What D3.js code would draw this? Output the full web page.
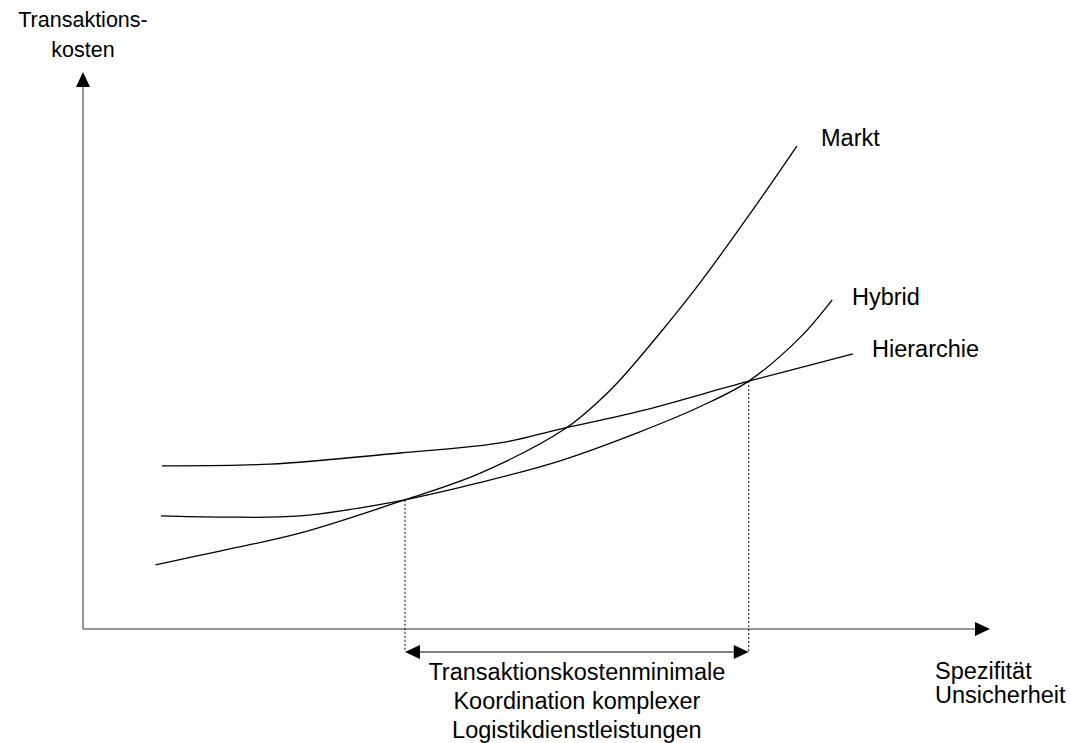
<!DOCTYPE html>
<html>
<head>
<meta charset="utf-8">
<script src="https://cdn.jsdelivr.net/npm/d3@7"></script>
<style>
  html, body { margin: 0; padding: 0; background: #fff; }
  svg text { font-family: Arial, 'Liberation Sans', sans-serif; font-size: 23.5px; fill: #000; }
  svg text.ylabel { font-size: 21.5px; }
</style>
</head>
<body>
<svg id="chart" width="1071" height="743"></svg>
<script>
// curve values (x: Spezifität/Unsicherheit, y: Transaktionskosten, 0..100)
const marktX = [8.0, 15.1, 23.9, 35.5, 43.8, 53.1, 57.0, 59.2, 63.6, 68.0, 74.6, 78.7];
const marktY = [11.5, 14.0, 17.2, 23.2, 28.0, 35.9, 41.1, 44.7, 53.1, 62.1, 77.0, 86.7];

const hybridX = [8.6, 15.1, 23.9, 35.5, 43.8, 52.6, 61.4, 68.0, 73.4, 79.1, 82.6];
const hybridY = [20.3, 20.1, 20.3, 23.2, 26.3, 30.2, 35.4, 39.9, 44.5, 52.4, 59.1];

const hierX = [8.7, 20.6, 35.0, 46.0, 52.6, 61.4, 73.4, 84.9];
const hierY = [29.3, 29.6, 31.6, 33.4, 35.9, 39.1, 44.5, 49.4];

// intersections that bound the cost-minimal range
const boundX = [35.5, 73.4];
const boundY = [23.2, 44.5];

const seriesNames = ['Markt', 'Hybrid', 'Hierarchie'];
const axisLabelY = ['Transaktions-', 'kosten'];
const axisLabelX = ['Spezifität', 'Unsicherheit'];
const rangeLabel = ['Transaktionskostenminimale', 'Koordination komplexer', 'Logistikdienstleistungen'];

const svg = d3.select('#chart');

const x = d3.scaleLinear().domain([0, 100]).range([83, 990]);
const y = d3.scaleLinear().domain([0, 100]).range([629, 72]);

const series = [
  { name: seriesNames[0], xs: marktX, ys: marktY, lx: 821, ly: 146 },
  { name: seriesNames[1], xs: hybridX, ys: hybridY, lx: 852, ly: 305 },
  { name: seriesNames[2], xs: hierX, ys: hierY, lx: 872, ly: 357 }
];

// axes
const axisColor = '#333';
const arrowLen = 15, arrowHalf = 7;
svg.append('line')
  .attr('x1', x(0)).attr('y1', y(0))
  .attr('x2', x(100) - arrowLen).attr('y2', y(0))
  .attr('stroke', axisColor).attr('stroke-width', 1);
svg.append('line')
  .attr('x1', x(0)).attr('y1', y(0))
  .attr('x2', x(0)).attr('y2', y(100) + arrowLen)
  .attr('stroke', axisColor).attr('stroke-width', 1);

svg.append('path')
  .attr('d', `M${x(100)},${y(0)} L${x(100) - arrowLen},${y(0) - arrowHalf} L${x(100) - arrowLen},${y(0) + arrowHalf} Z`)
  .attr('fill', '#000');
svg.append('path')
  .attr('d', `M${x(0)},${y(100)} L${x(0) - arrowHalf},${y(100) + arrowLen} L${x(0) + arrowHalf},${y(100) + arrowLen} Z`)
  .attr('fill', '#000');

// curves
const line = d3.line()
  .x(d => x(d[0]))
  .y(d => y(d[1]))
  .curve(d3.curveCatmullRom.alpha(0.5));

series.forEach(s => {
  svg.append('path')
    .datum(s.xs.map((v, i) => [v, s.ys[i]]))
    .attr('d', line)
    .attr('fill', 'none')
    .attr('stroke', '#000')
    .attr('stroke-width', 1.3);

  svg.append('text')
    .attr('x', s.lx)
    .attr('y', s.ly)
    .text(s.name);
});

// dotted drop lines and double arrow
const arrowY = 652;
boundX.forEach((bx, i) => {
  svg.append('line')
    .attr('x1', x(bx)).attr('y1', y(boundY[i]))
    .attr('x2', x(bx)).attr('y2', arrowY)
    .attr('stroke', '#000')
    .attr('stroke-width', 1)
    .attr('stroke-dasharray', '2,2');
});

const ax0 = x(boundX[0]), ax1 = x(boundX[1]);
svg.append('line')
  .attr('x1', ax0 + arrowLen).attr('y1', arrowY)
  .attr('x2', ax1 - arrowLen).attr('y2', arrowY)
  .attr('stroke', '#000').attr('stroke-width', 1);
svg.append('path')
  .attr('d', `M${ax0},${arrowY} L${ax0 + arrowLen},${arrowY - arrowHalf} L${ax0 + arrowLen},${arrowY + arrowHalf} Z`)
  .attr('fill', '#000');
svg.append('path')
  .attr('d', `M${ax1},${arrowY} L${ax1 - arrowLen},${arrowY - arrowHalf} L${ax1 - arrowLen},${arrowY + arrowHalf} Z`)
  .attr('fill', '#000');

// labels
svg.append('text')
  .attr('class', 'ylabel')
  .attr('text-anchor', 'middle')
  .selectAll('tspan')
  .data(axisLabelY)
  .enter()
  .append('tspan')
  .attr('x', x(0))
  .attr('y', (d, i) => 27 + i * 30)
  .text(d => d);

svg.append('text')
  .selectAll('tspan')
  .data(axisLabelX)
  .enter()
  .append('tspan')
  .attr('x', 935)
  .attr('y', (d, i) => 679 + i * 24)
  .text(d => d);

svg.append('text')
  .attr('text-anchor', 'middle')
  .selectAll('tspan')
  .data(rangeLabel)
  .enter()
  .append('tspan')
  .attr('x', (ax0 + ax1) / 2)
  .attr('y', (d, i) => 680 + i * 29)
  .text(d => d);
</script>
</body>
</html>
